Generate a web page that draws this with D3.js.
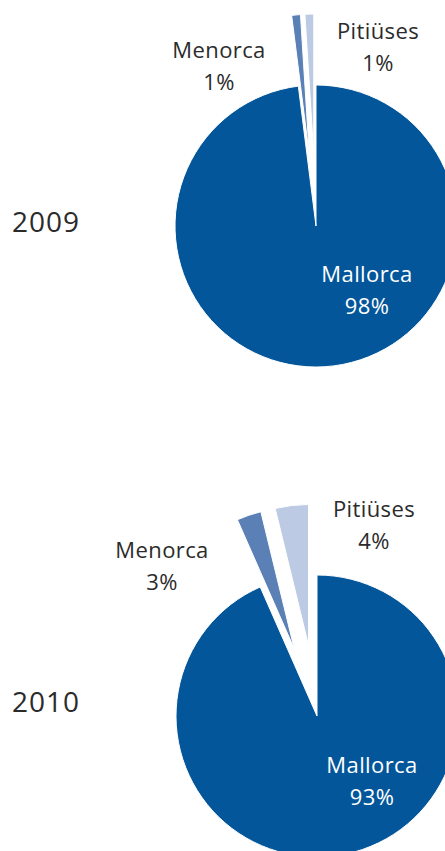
<!DOCTYPE html>
<html>
<head>
<meta charset="utf-8">
<script src="https://cdn.jsdelivr.net/npm/d3@7/dist/d3.min.js"></script>
<style>
  html, body { margin: 0; padding: 0; background: #fff; }
  svg { display: block; }
</style>
</head>
<body>
<svg id="chart" width="445" height="851"></svg>
<script>
// data (shares in %, labels show rounded values)
const years = ['2009', '2010'];
const islands = ['Mallorca', 'Menorca', 'Pitiüses'];
const shares2009 = [98, 1, 1];
const shares2010 = [93.4, 2.8, 3.8];
const sharesByYear = [shares2009, shares2010];

const colors = d3.scaleOrdinal()
    .domain(islands)
    .range(['#03569a', '#5a80b6', '#bccae4']);

const svg = d3.select('#chart');
const radius = 141;
const explode = 71;
const centers = [[316, 226], [317, 716]];

// label anchors relative to each pie centre (first line baseline)
const labelPos = {
    '2009': {Mallorca: [51, 56], Menorca: [-97, -168], 'Pitiüses': [62, -187]},
    '2010': {Mallorca: [55, 57], Menorca: [-155, -158], 'Pitiüses': [57, -199]}
};

const pie = d3.pie().sort(null).value(d => d.value);
const arc = d3.arc().innerRadius(0).outerRadius(radius);

years.forEach(function (year, i) {
    const data = islands.map((name, j) => ({name: name, value: sharesByYear[i][j]}));
    const arcs = pie(data);
    const [cx, cy] = centers[i];
    const g = svg.append('g').attr('transform', `translate(${cx},${cy})`);

    g.selectAll('path')
        .data(arcs)
        .enter()
        .append('path')
        .attr('d', arc)
        .attr('fill', d => colors(d.data.name))
        .attr('stroke', '#fff')
        .attr('stroke-width', 1)
        .attr('transform', function (d) {
            // small islands are pulled out of the pie
            if (d.index === 0) return null;
            const mid = (d.startAngle + d.endAngle) / 2;
            return `translate(${explode * Math.sin(mid)},${-explode * Math.cos(mid)})`;
        });

    arcs.forEach(function (d) {
        const p = labelPos[year][d.data.name];
        const t = g.append('text')
            .attr('x', p[0])
            .attr('y', p[1])
            .attr('text-anchor', 'middle')
            .style('font-family', '"Open Sans", sans-serif')
            .style('font-size', '22px')
            .style('letter-spacing', '0.4px')
            .style('fill', d.index === 0 ? '#ffffff' : '#2b2b2b');
        t.append('tspan').attr('x', p[0]).text(d.data.name);
        t.append('tspan').attr('x', p[0]).attr('dy', 32).text(Math.round(d.data.value) + '%');
    });

    svg.append('text')
        .attr('x', 12)
        .attr('y', cy + (i === 0 ? 6 : -4))
        .style('font-family', '"Open Sans", sans-serif')
        .style('font-size', '28px')
        .style('letter-spacing', '1px')
        .style('fill', '#2b2b2b')
        .text(year);
});
</script>
</body>
</html>
